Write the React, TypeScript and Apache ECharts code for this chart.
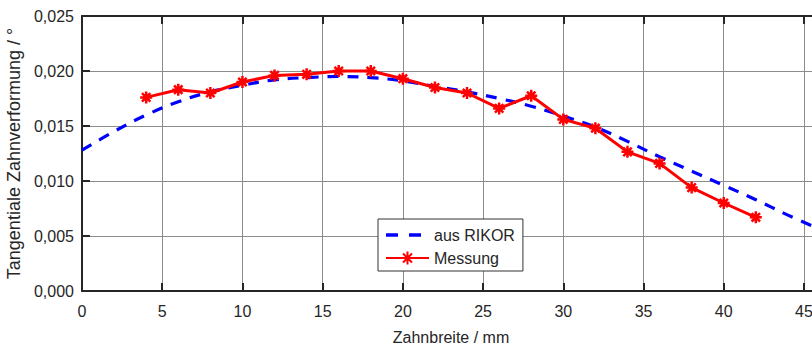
import React, { useEffect, useRef } from "react";
import * as echarts from "echarts";

const rikorX = [0, 2, 4, 6, 8, 10, 12, 14, 16, 18, 20, 22, 24, 26, 28, 30, 32, 34, 36, 38, 40, 42, 44, 46];
const rikorY = [0.0128, 0.0145, 0.016, 0.0172, 0.0181, 0.0187, 0.0192, 0.0194, 0.0195, 0.0194, 0.0191, 0.0186, 0.0181, 0.0175, 0.0168, 0.0159, 0.0149, 0.0136, 0.0122, 0.0109, 0.0096, 0.0083, 0.0069, 0.0056];

const messX = [4, 6, 8, 10, 12, 14, 16, 18, 20, 22, 24, 26, 28, 30, 32, 34, 36, 38, 40, 42];
const messY = [0.0176, 0.0183, 0.018, 0.019, 0.0196, 0.0197, 0.02, 0.02, 0.0193, 0.0185, 0.018, 0.0166, 0.01775, 0.0156, 0.0148, 0.01265, 0.0116, 0.0094, 0.008, 0.0067];

const seriesNames = ["aus RIKOR", "Messung"];
const xTitle = "Zahnbreite / mm";
const yTitle = "Tangentiale Zahnverformung / °";

const FONT = "'Liberation Sans', Arial, sans-serif";
const TXT = "#262626";
const AX = "#262626";
const GRID = "#8c8c8c";
const asterisk = "path://M0,5L10,5M5,0L5,10M1.5,1.5L8.5,8.5M8.5,1.5L1.5,8.5";
const dashIcon = "path://M0,0M43,16M0,6.3h12v3.4H0zM23,6.3h12v3.4H23z";

export default function App() {
  const ref = useRef<HTMLDivElement>(null);
  useEffect(() => {
    if (!ref.current) return;
    const chart = echarts.init(ref.current, undefined, { renderer: "svg" });
    const xCommon = {
      type: "value",
      min: 0,
      max: 46,
      interval: 5,
    };
    const yCommon = {
      type: "value",
      min: 0,
      max: 0.025,
      interval: 0.005,
    };
    chart.setOption({
      animation: false,
      backgroundColor: "#ffffff",
      textStyle: { fontFamily: FONT },
      grid: { left: 82, right: -8, top: 16, bottom: 54, outerBoundsMode: "none", containLabel: false },
      legend: {
        orient: "vertical",
        left: 378,
        top: 219,
        itemWidth: 43,
        itemHeight: 16,
        itemGap: 7,
        padding: [8, 8, 5, 7],
        backgroundColor: "#ffffff",
        borderColor: "#333333",
        borderWidth: 1,
        borderRadius: 0,
        textStyle: { fontSize: 16, color: TXT, fontFamily: FONT },
        data: [{ name: seriesNames[0], icon: dashIcon }, { name: seriesNames[1] }],
      },
      xAxis: [
        {
          ...xCommon,
          position: "bottom",
          name: xTitle,
          nameLocation: "middle",
          nameGap: 38,
          nameTextStyle: { fontSize: 16, color: TXT, fontFamily: FONT },
          axisLine: { show: true, onZero: false, lineStyle: { color: AX, width: 2 } },
          axisTick: { show: true, inside: true, length: 8, lineStyle: { color: AX, width: 2 } },
          axisLabel: { fontSize: 16, color: TXT, margin: 12, fontFamily: FONT, showMaxLabel: false },
          splitLine: { show: true, lineStyle: { color: GRID, width: 1 } },
        },
        {
          ...xCommon,
          position: "top",
          axisLine: { show: true, onZero: false, lineStyle: { color: AX, width: 2 } },
          axisTick: { show: true, inside: true, length: 8, lineStyle: { color: AX, width: 2 } },
          axisLabel: { show: false },
          splitLine: { show: false },
        },
      ],
      yAxis: [
        {
          ...yCommon,
          position: "left",
          name: yTitle,
          nameLocation: "middle",
          nameGap: 53,
          nameTextStyle: { fontSize: 18, color: TXT, fontFamily: FONT },
          axisLine: { show: true, onZero: false, lineStyle: { color: AX, width: 2 } },
          axisTick: { show: true, inside: true, length: 8, lineStyle: { color: AX, width: 2 } },
          axisLabel: {
            fontSize: 16,
            color: TXT,
            margin: 8,
            fontFamily: FONT,
            formatter: (v: number) => v.toFixed(3).replace(".", ","),
          },
          splitLine: { show: true, lineStyle: { color: GRID, width: 1 } },
        },
        {
          ...yCommon,
          position: "right",
          axisLine: { show: true, onZero: false, lineStyle: { color: AX, width: 2 } },
          axisTick: { show: true, inside: true, length: 8, lineStyle: { color: AX, width: 2 } },
          axisLabel: { show: false },
          splitLine: { show: false },
        },
      ],
      series: [
        {
          name: seriesNames[0],
          type: "line",
          xAxisIndex: 0,
          yAxisIndex: 0,
          data: rikorX.map((x, i) => [x, rikorY[i]]),
          smooth: 0.4,
          symbol: "none",
          color: "#0000ff",
          itemStyle: { color: "#0000ff" },
          lineStyle: { color: "#0000ff", width: 3.2, type: [11, 9] },
          z: 2,
        },
        {
          name: seriesNames[1],
          type: "line",
          xAxisIndex: 0,
          yAxisIndex: 0,
          data: messX.map((x, i) => [x, messY[i]]),
          symbol: asterisk,
          symbolSize: 12,
          color: "#ff0000",
          itemStyle: { color: "#ff0000", borderColor: "#ff0000", borderWidth: 2.5 },
          lineStyle: { color: "#ff0000", width: 3 },
          z: 3,
        },
      ],
    });
    return () => chart.dispose();
  }, []);
  return <div ref={ref} style={{ width: 812, height: 345, position: "absolute", left: 0, top: 0 }} />;
}
